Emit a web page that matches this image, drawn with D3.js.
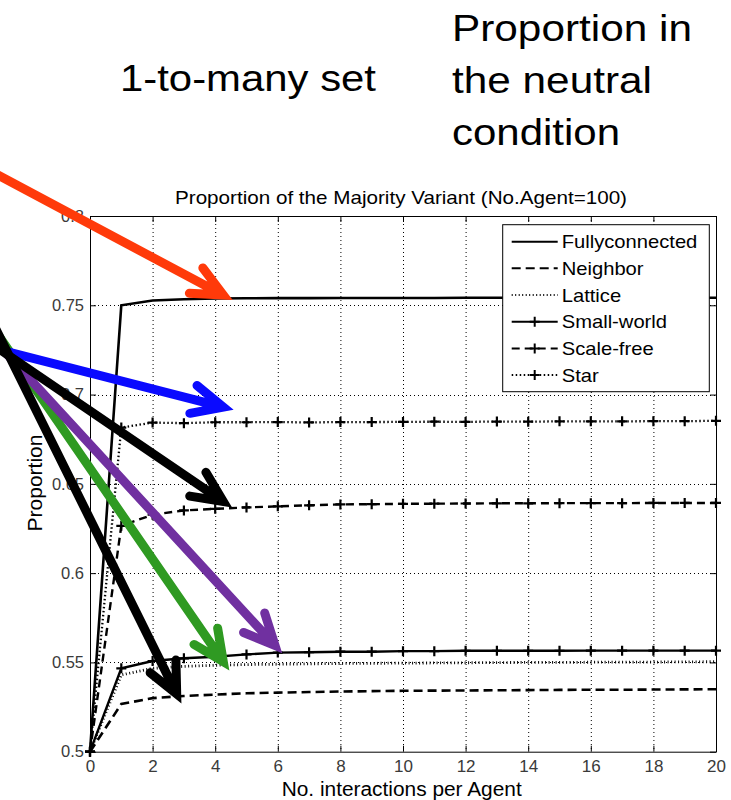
<!DOCTYPE html>
<html>
<head>
<meta charset="utf-8">
<script src="https://cdn.jsdelivr.net/npm/d3@7"></script>
<style>
  html, body { margin: 0; padding: 0; background: #fff; }
  svg { display: block; font-family: "Liberation Sans", Arial, sans-serif; }
</style>
</head>
<body>
<svg id="chart" width="731" height="800"></svg>
<script>
// ---- data ----
const steps = [0, 1, 2, 3, 4, 5, 6, 7, 8, 9, 10, 11, 12, 13, 14, 15, 16, 17, 18, 19, 20];
const xTicks = [0, 2, 4, 6, 8, 10, 12, 14, 16, 18, 20];
const yTicks = [0.5, 0.55, 0.6, 0.65, 0.7, 0.75, 0.8];
const yTickLabels = ["0.5", "0.55", "0.6", "0.65", "0.7", "0.75", "0.8"];

const seriesNames = ["Fullyconnected", "Neighbor", "Lattice", "Small-world", "Scale-free", "Star"];
const fullyconnected = [0.5, 0.7500, 0.7527, 0.7534, 0.7538, 0.7539, 0.7540, 0.7540, 0.7541, 0.7541, 0.7541,
                        0.7541, 0.7542, 0.7542, 0.7542, 0.7542, 0.7542, 0.7542, 0.7542, 0.7542, 0.7542];
const neighbor = [0.5, 0.5267, 0.5300, 0.5312, 0.5320, 0.5327, 0.5331, 0.5334, 0.5337, 0.5339, 0.5341,
                  0.5342, 0.5343, 0.5344, 0.5345, 0.5346, 0.5347, 0.5347, 0.5348, 0.5349, 0.5350];
const lattice = [0.5, 0.5430, 0.5467, 0.5478, 0.5484, 0.5488, 0.5490, 0.5492, 0.5494, 0.5495, 0.5496,
                 0.5497, 0.5498, 0.5499, 0.5500, 0.5500, 0.5501, 0.5502, 0.5502, 0.5503, 0.5504];
const smallWorld = [0.5, 0.5467, 0.5508, 0.5523, 0.5532, 0.5545, 0.5555, 0.5557, 0.5560, 0.5560, 0.5563,
                    0.5563, 0.5565, 0.5565, 0.5565, 0.5565, 0.5566, 0.5566, 0.5566, 0.5566, 0.5566];
const scaleFree = [0.5, 0.6265, 0.6327, 0.6351, 0.6360, 0.6368, 0.6374, 0.6380, 0.6385, 0.6386, 0.6388,
                   0.6389, 0.6390, 0.6391, 0.6391, 0.6392, 0.6392, 0.6392, 0.6393, 0.6393, 0.6393];
const star = [0.5, 0.6815, 0.6843, 0.6840, 0.6845, 0.6845, 0.6846, 0.6844, 0.6846, 0.6846, 0.6847,
              0.6848, 0.6847, 0.6849, 0.6848, 0.6850, 0.6850, 0.6850, 0.6851, 0.6851, 0.6853];

// annotation arrows, given in data units (start, tip)
const arrowColors = ["#2f9a22", "#7030a0", "#0a0aff", "#000000", "#000000", "#ff3a0a"];
const arrowStartX = [-3.195, -3.195, -3.195, -3.195, -3.195, -3.195];
const arrowStartY = [0.7400, 0.7329, 0.7265, 0.7290, 0.7434, 0.8253];
const arrowTipX = [4.259, 5.911, 4.259, 4.259, 2.770, 4.259];
const arrowTipY = [0.5504, 0.5595, 0.6930, 0.6401, 0.5323, 0.7557];

// ---- layout ----
const svg = d3.select("#chart");
const x = d3.scaleLinear().domain([0, 20]).range([90, 716]);
const y = d3.scaleLinear().domain([0.5, 0.8]).range([751.7, 216]);
const FONT = '"Liberation Sans", Arial, sans-serif';

function fit(sel, width) {
  sel.attr("textLength", width).attr("lengthAdjust", "spacingAndGlyphs");
  return sel;
}
function widen(sel, k) {
  sel.each(function () {
    const w = this.getComputedTextLength();
    d3.select(this).attr("textLength", w * k).attr("lengthAdjust", "spacingAndGlyphs");
  });
  return sel;
}

// slide headings
const head = svg.append("g").attr("fill", "#000").style("font-size", "37px");
fit(head.append("text").attr("x", 120).attr("y", 91).text("1-to-many set"), 256);
fit(head.append("text").attr("x", 452).attr("y", 41).text("Proportion in"), 240);
fit(head.append("text").attr("x", 452).attr("y", 93).text("the neutral"), 200);
fit(head.append("text").attr("x", 452).attr("y", 145).text("condition"), 168);

// chart title
fit(svg.append("text")
  .attr("x", 401).attr("y", 203.5).attr("text-anchor", "middle")
  .style("font-size", "19px")
  .text("Proportion of the Majority Variant (No.Agent=100)"), 452);

// grid
const grid = svg.append("g").attr("stroke", "#000").attr("stroke-width", 1).attr("stroke-dasharray", "1,3");
grid.selectAll("line.gx").data(xTicks.slice(1, -1)).join("line")
  .attr("x1", d => x(d) + 0.5).attr("x2", d => x(d) + 0.5)
  .attr("y1", y(0.8)).attr("y2", y(0.5));
grid.selectAll("line.gy").data(yTicks.slice(1, -1)).join("line")
  .attr("y1", d => Math.round(y(d)) + 0.5).attr("y2", d => Math.round(y(d)) + 0.5)
  .attr("x1", x(0)).attr("x2", x(20));

// axes
const axBottom = svg.append("g").attr("transform", `translate(0,${y(0.5)})`)
  .call(d3.axisBottom(x).tickValues(xTicks).tickSizeInner(-6).tickSizeOuter(0).tickPadding(8));
const axLeft = svg.append("g").attr("transform", `translate(${x(0)},0)`)
  .call(d3.axisLeft(y).tickValues(yTicks).tickFormat((d, i) => yTickLabels[i])
    .tickSizeInner(-6).tickSizeOuter(0).tickPadding(6));
const axTop = svg.append("g").attr("transform", `translate(0,${y(0.8)})`)
  .call(d3.axisTop(x).tickValues(xTicks).tickFormat("").tickSizeInner(-6).tickSizeOuter(0));
const axRight = svg.append("g").attr("transform", `translate(${x(20)},0)`)
  .call(d3.axisRight(y).tickValues(yTicks).tickFormat("").tickSizeInner(-6).tickSizeOuter(0));
[axBottom, axLeft, axTop, axRight].forEach(g => {
  g.selectAll("path, line").attr("stroke", "#000").attr("stroke-width", 1);
  g.selectAll("text").attr("fill", "#3a3a3a").style("font-family", FONT);
});
axBottom.selectAll("text").style("font-size", "17px");
axLeft.selectAll("text").style("font-size", "16.5px");

// axis titles
fit(svg.append("text")
  .attr("x", 401.7).attr("y", 796).attr("text-anchor", "middle")
  .style("font-size", "20px").text("No. interactions per Agent"), 240);
fit(svg.append("text")
  .attr("transform", "translate(42,483) rotate(-90)").attr("text-anchor", "middle")
  .style("font-size", "20px").text("Proportion"), 97);

// series
const series = [
  { name: seriesNames[0], values: fullyconnected, dash: null, width: 2.6, marker: false },
  { name: seriesNames[1], values: neighbor, dash: "9,5", width: 2.6, marker: false },
  { name: seriesNames[2], values: lattice, dash: "1,2.5", width: 2.8, marker: false },
  { name: seriesNames[3], values: smallWorld, dash: null, width: 2.4, marker: true },
  { name: seriesNames[4], values: scaleFree, dash: "8,5", width: 2.4, marker: true },
  { name: seriesNames[5], values: star, dash: "1.5,2.5", width: 2.3, marker: true }
];
const line = d3.line().x((d, i) => x(steps[i])).y(d => y(d));
const plus = "M-5,0H5M0,-5V5";

const plot = svg.append("g");
series.forEach(s => {
  plot.append("path").datum(s.values)
    .attr("d", line).attr("fill", "none").attr("stroke", "#000")
    .attr("stroke-width", s.width).attr("stroke-dasharray", s.dash);
  if (s.marker) {
    plot.append("g").selectAll("path").data(s.values).join("path")
      .attr("transform", (d, i) => `translate(${x(steps[i])},${y(d)})`)
      .attr("d", plus).attr("stroke", "#000").attr("stroke-width", 2.2).attr("fill", "none");
  }
});

// legend
const lg = svg.append("g").attr("transform", "translate(502.7,224.7)");
lg.append("rect").attr("x", 0).attr("y", 0).attr("width", 206.6).attr("height", 167)
  .attr("fill", "#fff").attr("stroke", "#000").attr("stroke-width", 1);
series.forEach((s, i) => {
  const cy = 17 + i * 26.67;
  lg.append("line").attr("x1", 9).attr("x2", 55).attr("y1", cy).attr("y2", cy)
    .attr("stroke", "#000").attr("stroke-width", 2)
    .attr("stroke-dasharray", s.dash);
  if (s.marker) {
    lg.append("path").attr("transform", `translate(32,${cy})`).attr("d", plus)
      .attr("stroke", "#000").attr("stroke-width", 2);
  }
  widen(lg.append("text").attr("x", 59).attr("y", cy + 6.6)
    .style("font-size", "18.5px").attr("fill", "#000").text(s.name), 1.09);
});

// annotation arrows
const arrows = svg.append("g").attr("fill", "none").attr("stroke-linecap", "round").attr("stroke-linejoin", "miter");
arrowColors.forEach((c, i) => {
  const x0 = x(arrowStartX[i]), y0 = y(arrowStartY[i]);
  const x1 = x(arrowTipX[i]), y1 = y(arrowTipY[i]);
  const back = Math.atan2(y0 - y1, x0 - x1);
  const spread = 25 * Math.PI / 180, len = 34;
  const a1 = [x1 + len * Math.cos(back + spread), y1 + len * Math.sin(back + spread)];
  const a2 = [x1 + len * Math.cos(back - spread), y1 + len * Math.sin(back - spread)];
  const sx = x1 + 5 * Math.cos(back), sy = y1 + 5 * Math.sin(back);
  arrows.append("path")
    .attr("d", `M${x0},${y0}L${sx},${sy}M${a1[0]},${a1[1]}L${x1},${y1}L${a2[0]},${a2[1]}`)
    .attr("stroke", c).attr("stroke-width", 9).attr("stroke-miterlimit", 10);
});
</script>
</body>
</html>
